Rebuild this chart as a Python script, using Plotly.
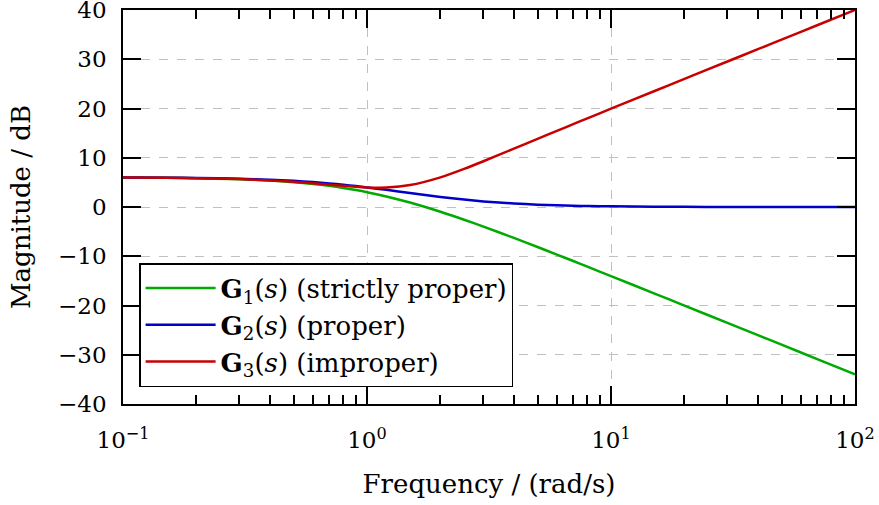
import plotly.graph_objects as go

# Frequency / (rad/s)
freq = [0.1, 0.15, 0.2, 0.3, 0.4, 0.5, 0.6, 0.7, 0.8, 0.9, 1.0, 1.2, 1.5, 2.0, 2.5,
        3.0, 4.0, 5.0, 6.0, 7.0, 8.0, 10.0, 15.0, 20.0, 30.0, 40.0, 50.0, 70.0, 100.0]

# Magnitude / dB
g1_strictly_proper = [5.98, 5.92, 5.85, 5.65, 5.38, 5.05, 4.69, 4.29, 3.87, 3.44, 3.01, 2.15, 0.90,
                      -0.97, -2.58, -3.98, -6.28, -8.13, -9.66, -10.97, -12.11, -14.02, -17.52,
                      -20.01, -23.53, -26.02, -27.96, -30.88, -33.98]
g2_proper = [5.99, 5.95, 5.89, 5.74, 5.55, 5.32, 5.06, 4.79, 4.52, 4.25, 3.98, 3.48, 2.84,
             2.04, 1.50, 1.14, 0.71, 0.47, 0.34, 0.25, 0.20, 0.13, 0.06, 0.03, 0.01, 0.01,
             0.01, 0.00, 0.00]
g3_improper = [5.98, 5.93, 5.85, 5.66, 5.40, 5.12, 4.82, 4.54, 4.30, 4.10, 3.98, 3.96, 4.45,
               6.02, 7.74, 9.29, 11.85, 13.84, 15.46, 16.82, 18.00, 19.96, 23.50, 26.01,
               29.54, 32.04, 33.98, 36.90, 40.00]

series_names = ["<b>G</b><sub>1</sub>(<i>s</i>) (strictly proper)",
                "<b>G</b><sub>2</sub>(<i>s</i>) (proper)",
                "<b>G</b><sub>3</sub>(<i>s</i>) (improper)"]
series_colors = ["#00aa00", "#0000c8", "#c80000"]

x_tickvals = [0.1, 1, 10, 100]
x_ticktext = ["10<sup>−1</sup>", "10<sup>0</sup>", "10<sup>1</sup>", "10<sup>2</sup>"]

FONT = "DejaVu Serif, Liberation Serif, serif"
FS_TICK = 23
FS_TEXT = 26

fig = go.Figure()
for name, ys, col in zip(series_names, [g1_strictly_proper, g2_proper, g3_improper], series_colors):
    fig.add_trace(go.Scatter(x=freq, y=ys, mode="lines", name=name,
                             line=dict(color=col, width=2.5, shape="spline", smoothing=0.6)))

axis_common = dict(showline=True, linecolor="black", linewidth=1.6, mirror="ticks",
                   ticks="inside", tickcolor="black", tickwidth=1.6, ticklen=18,
                   showgrid=True, gridcolor="#c0c0c0", gridwidth=1, griddash="dash",
                   zeroline=False, ticklabeloverflow="allow", automargin=False,
                   tickfont=dict(family=FONT, size=FS_TICK, color="black"))

fig.update_xaxes(type="log", range=[-1, 2], tickvals=x_tickvals, ticktext=x_ticktext,
                 minor=dict(ticks="inside", ticklen=9, tickwidth=1.6, tickcolor="black",
                            dtick="D1", showgrid=False),
                 ticklabelstandoff=15,
                 title=dict(text="Frequency / (rad/s)", font=dict(family=FONT, size=FS_TEXT, color="black"),
                            standoff=22),
                 **axis_common)
fig.update_yaxes(range=[-40, 40], dtick=10, tick0=0,
                 ticklabelstandoff=10,
                 title=dict(text="Magnitude / dB", font=dict(family=FONT, size=FS_TEXT, color="black"),
                            standoff=20),
                 **axis_common)

fig.update_layout(
    width=879, height=505,
    margin=dict(l=123, r=24, t=10, b=101),
    plot_bgcolor="white", paper_bgcolor="white",
    font=dict(family=FONT, size=FS_TEXT, color="black"),
    legend=dict(x=0.022, y=0.043, xanchor="left", yanchor="bottom",
                bgcolor="white", bordercolor="black", borderwidth=1.5,
                font=dict(family=FONT, size=FS_TEXT, color="black"),
                tracegroupgap=0, itemwidth=70),
    showlegend=True,
)

fig.write_html("out.html")
